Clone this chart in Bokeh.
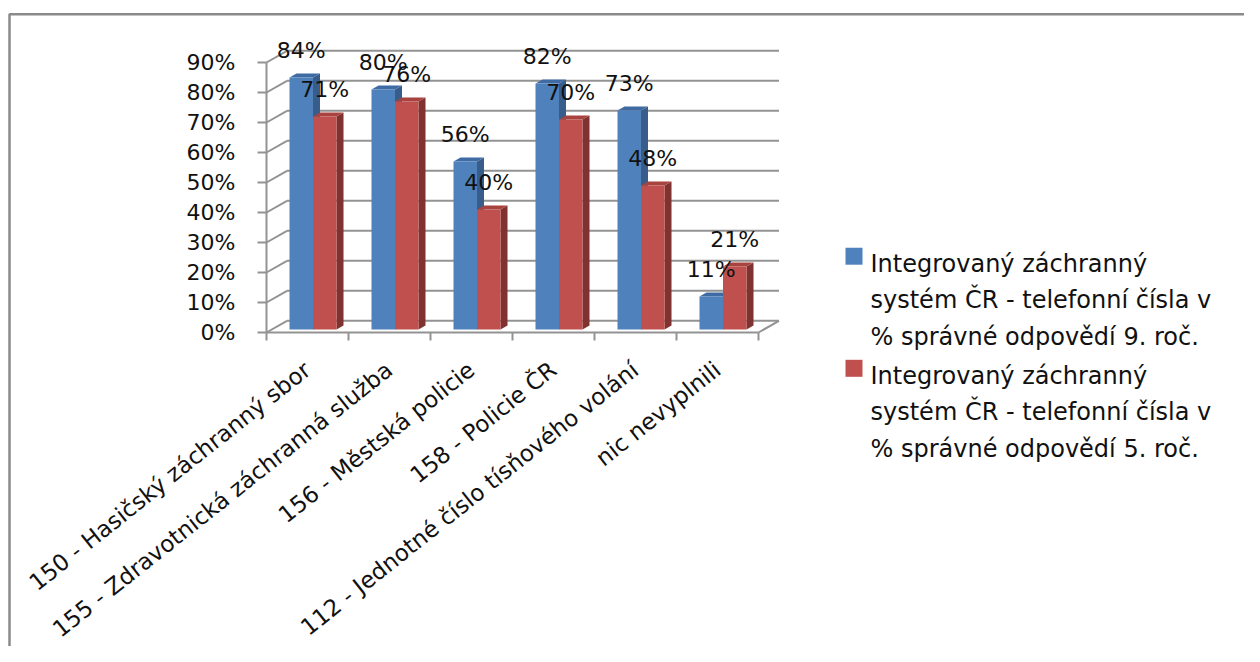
import math
from bokeh.plotting import figure
from bokeh.models import LinearAxis, FixedTicker, Range1d
from bokeh.embed import file_html
from bokeh.resources import INLINE
from bokeh.core.properties import value

# ---------------- data ----------------
categories = [
    "150 - Hasičský záchranný sbor",
    "155 - Zdravotnická záchranná služba",
    "156 - Městská policie",
    "158 - Policie ČR",
    "112 - Jednotné číslo tísňového volání",
    "nic nevyplnili",
]
grade9 = [84, 80, 56, 82, 73, 11]
grade5 = [71, 76, 40, 70, 48, 21]
y_ticks = [0, 10, 20, 30, 40, 50, 60, 70, 80, 90]
y_tick_labels = ["0%", "10%", "20%", "30%", "40%", "50%", "60%", "70%", "80%", "90%"]
legend_lines_9 = ["Integrovaný záchranný", "systém ČR - telefonní čísla v", "% správné odpovědí 9. roč."]
legend_lines_5 = ["Integrovaný záchranný", "systém ČR - telefonní čísla v", "% správné odpovědí 5. roč."]

# ---------------- layout / style ----------------
W, H = 1244, 646
ORIGIN = 0        # canvas offset on the photographed page
AX_X = 266.0      # page px of category 0 (front y axis)
AX_Y = 332.0      # page px of 0 % (front floor edge)
PX_CAT = 82.0
PX_PCT = 3.0

FONT = "DejaVu Sans"
GRID = "#939393"
TXT = "#111111"
BLUE = ("#4F81BD", "#3E6BA3", "#385D8A")   # front, top, side
RED = ("#C0504D", "#A8433F", "#7F3230")

BDX, BDY = 20.5 / PX_CAT, 11.7 / PX_PCT   # back wall depth
FDX, FDY = 5.5 / PX_CAT, 3.0 / PX_PCT     # bar front depth
SDX, SDY = 7.0 / PX_CAT, 4.0 / PX_PCT     # bar side depth
BW = 23.5 / PX_CAT

def dx(page_x):
    return (page_x - AX_X) / PX_CAT

def dy(page_y):
    return (AX_Y - page_y) / PX_PCT

n = len(categories)

p = figure(width=W, height=H, output_backend="svg", toolbar_location=None,
           x_range=Range1d(dx(ORIGIN), dx(ORIGIN + W)),
           y_range=Range1d(dy(ORIGIN + H), dy(ORIGIN)),
           x_axis_location=None, y_axis_location=None, min_border=0)
p.outline_line_color = None
p.background_fill_color = "white"
p.border_fill_color = "white"
p.xgrid.visible = False
p.ygrid.visible = False

# outer border (top and left only, the rest is cropped in the reference)
p.line([dx(9.0), dx(9.0), dx(ORIGIN + W)], [dy(ORIGIN + H), dy(13.8), dy(13.8)],
       line_color="#8a8a8a", line_width=2.5)

# back wall gridlines
p.segment(x0=[BDX] * len(y_ticks), y0=[t + BDY for t in y_ticks],
          x1=[n + BDX] * len(y_ticks), y1=[t + BDY for t in y_ticks],
          line_color=GRID, line_width=2)
# side wall diagonals
p.segment(x0=[0] * len(y_ticks), y0=y_ticks,
          x1=[BDX] * len(y_ticks), y1=[t + BDY for t in y_ticks],
          line_color=GRID, line_width=2)
# floor right edge
p.segment(x0=[n], y0=[0], x1=[n + BDX], y1=[BDY], line_color=GRID, line_width=2)

# 3D bars
def bar_faces(x0, v):
    x1 = x0 + BW
    y0 = FDY
    y1 = FDY + v
    front = ([x0, x1, x1, x0], [y0, y0, y1, y1])
    top = ([x0, x1, x1 + SDX, x0 + SDX], [y1, y1, y1 + SDY, y1 + SDY])
    side = ([x1, x1 + SDX, x1 + SDX, x1], [y0, y0 + SDY, y1 + SDY, y1])
    return front, top, side

xs, ys, cols = [], [], []
lab_x, lab_y, lab_t = [], [], []
for i in range(n):
    center = i + 0.5 + FDX
    for x0, v, c in ((center - BW, grade9[i], BLUE), (center, grade5[i], RED)):
        front, top, side = bar_faces(x0, v)
        for face, col in ((side, c[2]), (top, c[1]), (front, c[0])):
            xs.append(face[0]); ys.append(face[1]); cols.append(col)
        lab_x.append(x0 + BW / 2)
        lab_y.append(v + FDY + 9.0)
        lab_t.append(f"{v}%")

p.patches(xs, ys, fill_color=cols, line_color=None)

p.text(lab_x, lab_y, text=lab_t, text_font=value(FONT), text_font_size="22px",
       text_align="center", text_baseline="middle", text_color=TXT)

# legend (drawn manually to keep Excel-like wrapping)
leg_x = dx(853.5)
p.scatter([leg_x, leg_x], [dy(255.7), dy(367.8)], marker="square", size=17,
          fill_color=[BLUE[0], RED[0]], line_color=None)
tx, ty, tt = [], [], []
for lines, base in ((legend_lines_9, 263.0), (legend_lines_5, 375.0)):
    for k, line in enumerate(lines):
        tx.append(dx(870))
        ty.append(dy(base + k * 36.5))
        tt.append(line)
p.text(tx, ty, text=tt, text_font=value(FONT), text_font_size="24px",
       text_align="left", text_baseline="alphabetic", text_color=TXT)

# axes
yax = LinearAxis(fixed_location=0, bounds=(0, 90), ticker=FixedTicker(ticks=y_ticks),
                 major_label_overrides={t: l for t, l in zip(y_ticks, y_tick_labels)})
yax.axis_line_color = GRID
yax.axis_line_width = 2
yax.major_tick_line_color = GRID
yax.major_tick_line_width = 2
yax.major_tick_in = 0
yax.major_tick_out = 9
yax.minor_tick_line_color = None
yax.major_label_standoff = 22
yax.major_label_text_font = FONT
yax.major_label_text_font_size = "22px"
yax.major_label_text_color = TXT
p.add_layout(yax, "left")

xticks = list(range(n + 1))
xax = LinearAxis(fixed_location=0, bounds=(0, n), ticker=FixedTicker(ticks=xticks),
                 major_label_overrides={t: "" for t in xticks})
xax.axis_line_color = GRID
xax.axis_line_width = 2
xax.major_tick_line_color = GRID
xax.major_tick_line_width = 2
xax.major_tick_in = 0
xax.major_tick_out = 8
xax.minor_tick_line_color = None
p.add_layout(xax, "below")

cticks = [i + 0.5 for i in range(n)]
cax = LinearAxis(fixed_location=0, ticker=FixedTicker(ticks=cticks),
                 major_label_overrides={t: c for t, c in zip(cticks, categories)})
cax.axis_line_color = None
cax.major_tick_line_color = None
cax.minor_tick_line_color = None
cax.major_label_orientation = 0.672
cax.major_label_standoff = 28
cax.major_label_text_font = FONT
cax.major_label_text_font_size = "23px"
cax.major_label_text_color = TXT
p.add_layout(cax, "below")

open("out.html", "w").write(file_html(p, INLINE))
